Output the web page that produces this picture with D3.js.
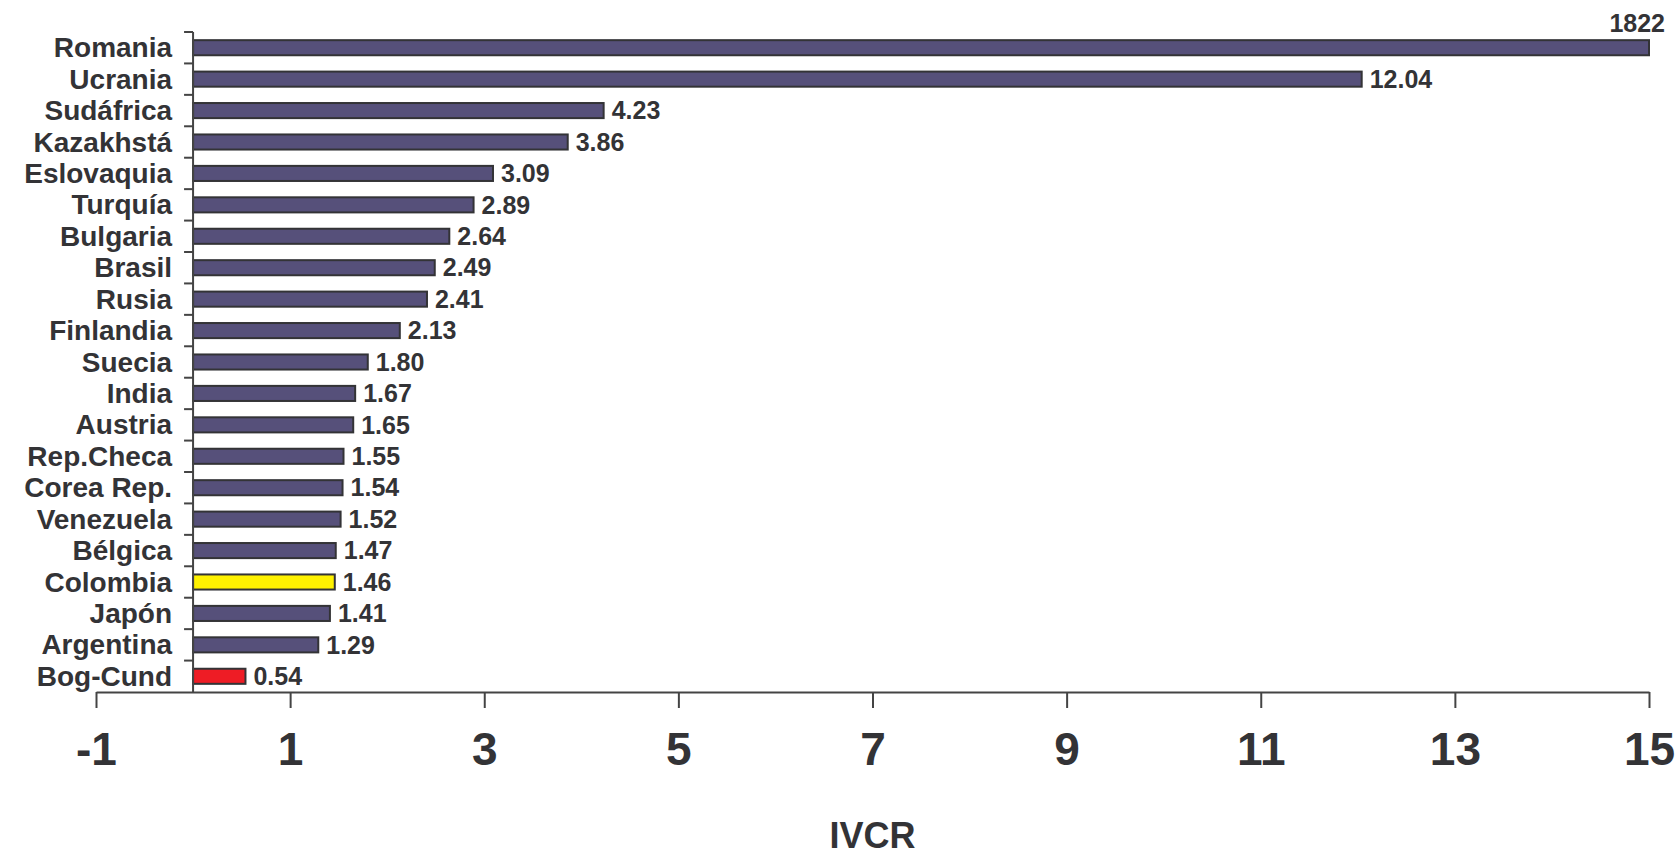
<!DOCTYPE html>
<html>
<head>
<meta charset="utf-8">
<script src="https://cdn.jsdelivr.net/npm/d3@7"></script>
<style>
  html, body { margin: 0; padding: 0; background: #fff; }
  svg { display: block; }
  text { font-family: "Liberation Sans", Arial, sans-serif; font-weight: bold; fill: #333336; }
</style>
</head>
<body>
<svg id="chart" width="1680" height="857"></svg>
<script>
// ---- data ----
const categories = ["Romania","Ucrania","Sudáfrica","Kazakhstá","Eslovaquia","Turquía","Bulgaria","Brasil","Rusia","Finlandia","Suecia","India","Austria","Rep.Checa","Corea Rep.","Venezuela","Bélgica","Colombia","Japón","Argentina","Bog-Cund"];
const values = [18.22,12.04,4.23,3.86,3.09,2.89,2.64,2.49,2.41,2.13,1.80,1.67,1.65,1.55,1.54,1.52,1.47,1.46,1.41,1.29,0.54];
const valueLabels = ["1822","12.04","4.23","3.86","3.09","2.89","2.64","2.49","2.41","2.13","1.80","1.67","1.65","1.55","1.54","1.52","1.47","1.46","1.41","1.29","0.54"];
const xTicks = [-1,1,3,5,7,9,11,13,15];
const axisTitle = "IVCR";

// ---- styles ----
const baseColor = "#56507a";
const specialColors = { "Colombia": "#fff200", "Bog-Cund": "#ee1c25" };
const strokeColor = "#333336";

const svg = d3.select("#chart");
const margin = { left: 96, right: 31, top: 32, bottom: 165 };
const W = 1680, H = 857;

const x = d3.scaleLinear().domain([-1, 15]).range([margin.left, W - margin.right]).clamp(true);
const y = d3.scaleBand().domain(categories).range([margin.top, H - margin.bottom])
  .paddingInner(0.52).paddingOuter(0.26);

const data = categories.map((c, i) => ({ c, v: values[i], label: valueLabels[i] }));

// bars
svg.append("g").selectAll("rect").data(data).join("rect")
  .attr("x", x(0))
  .attr("y", d => y(d.c))
  .attr("width", d => x(d.v) - x(0))
  .attr("height", y.bandwidth())
  .attr("fill", d => specialColors[d.c] || baseColor)
  .attr("stroke", strokeColor)
  .attr("stroke-width", 2);

// x axis
const xAxis = d3.axisBottom(x).tickValues(xTicks).tickFormat(d => String(d))
  .tickSize(16).tickSizeOuter(0).tickPadding(24);
const gx = svg.append("g").attr("transform", `translate(0,${H - margin.bottom})`).call(xAxis);
gx.select(".domain").attr("stroke", "#444").attr("stroke-width", 2);
gx.selectAll(".tick line").attr("stroke", "#444").attr("stroke-width", 2);
gx.selectAll(".tick text").attr("font-size", 46).attr("font-family", "Liberation Sans, Arial, sans-serif")
  .attr("font-weight", "bold").attr("fill", "#333336");

// y axis line with between-category ticks
const step = y.step();
const off = (step - y.bandwidth()) / 2;
const gy = svg.append("g");
gy.append("line").attr("x1", x(0)).attr("x2", x(0))
  .attr("y1", margin.top).attr("y2", H - margin.bottom)
  .attr("stroke", "#444").attr("stroke-width", 2);
const bounds = categories.map(c => y(c) - off);
gy.selectAll("line.t").data(bounds).join("line").attr("class", "t")
  .attr("x1", x(0) - 9).attr("x2", x(0))
  .attr("y1", d => d).attr("y2", d => d)
  .attr("stroke", "#444").attr("stroke-width", 2);

// category labels
svg.append("g").selectAll("text").data(data).join("text")
  .attr("x", x(0) - 21)
  .attr("y", d => y(d.c) + y.bandwidth() / 2)
  .attr("dy", "0.34em")
  .attr("text-anchor", "end")
  .attr("font-size", 28)
  .text(d => d.c);

// value labels
const maxX = x.domain()[1];
svg.append("g").selectAll("text").data(data).join("text")
  .attr("x", d => d.v > maxX ? x(maxX) + 16 : x(d.v) + 8)
  .attr("y", d => d.v > maxX ? y(d.c) - 8 : y(d.c) + y.bandwidth() / 2)
  .attr("dy", d => d.v > maxX ? "0" : "0.35em")
  .attr("text-anchor", d => d.v > maxX ? "end" : "start")
  .attr("font-size", 25)
  .text(d => d.label);

// axis title
svg.append("text")
  .attr("x", (x.range()[0] + x.range()[1]) / 2)
  .attr("y", H - 9)
  .attr("text-anchor", "middle")
  .attr("font-size", 36)
  .text(axisTitle);
</script>
</body>
</html>
